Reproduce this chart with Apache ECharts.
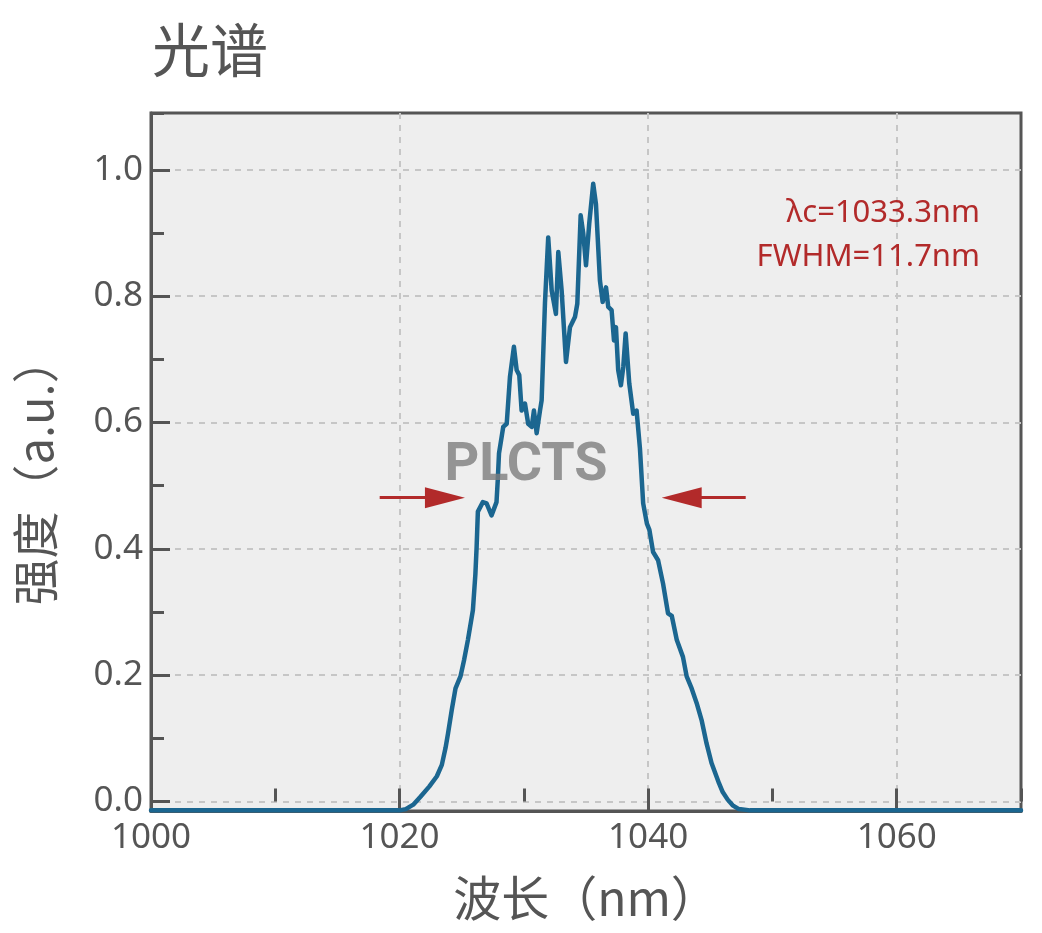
<!DOCTYPE html>
<html>
<head>
<meta charset="utf-8">
<script src="https://cdn.jsdelivr.net/npm/echarts@6/dist/echarts.min.js"></script>
<style>
html,body{margin:0;padding:0;background:#fff;}
#c{width:1042px;height:933px;}
</style>
</head>
<body>
<div id="c"></div>
<script>
// ---- data ----
const wavelength = [
  1000, 1010, 1020.0, 1020.5, 1021.1, 1021.7, 1022.4, 1023.0, 1023.4, 1023.7, 1023.9,
  1024.2, 1024.5, 1024.9, 1025.2, 1025.5, 1025.9, 1026.1, 1026.2, 1026.3, 1026.7,
  1027.0, 1027.4, 1027.8, 1027.9, 1028.0, 1028.21, 1028.34, 1028.62, 1028.88, 1029.20,
  1029.42, 1029.63, 1029.82, 1030.09, 1030.35, 1030.63, 1030.81, 1031.03, 1031.30, 1031.43,
  1031.70, 1031.96, 1032.24, 1032.58, 1032.77, 1033.04, 1033.39, 1033.71, 1034.11, 1034.30,
  1034.57, 1034.78, 1035.00, 1035.26, 1035.58, 1035.80, 1036.12, 1036.34, 1036.61, 1036.79,
  1037.06, 1037.25, 1037.41, 1037.59, 1037.81, 1038.00, 1038.19, 1038.48, 1038.80, 1039.07,
  1039.34, 1039.6, 1039.9, 1040.1, 1040.4, 1040.8, 1041.2, 1041.6, 1041.9, 1042.3,
  1042.8, 1043.1, 1043.5, 1043.9, 1044.3, 1044.7, 1045.1, 1045.7, 1046.0, 1046.4,
  1046.8, 1047.3, 1048.2, 1060, 1070
];
const intensity = [
  -0.014, -0.014, -0.014, -0.012, -0.005, 0.008, 0.024, 0.040, 0.058, 0.085, 0.108,
  0.145, 0.179, 0.198, 0.225, 0.256, 0.303, 0.360, 0.403, 0.459, 0.474,
  0.472, 0.453, 0.474, 0.509, 0.551, 0.577, 0.593, 0.598, 0.672, 0.720,
  0.683, 0.675, 0.619, 0.630, 0.598, 0.593, 0.619, 0.583, 0.619, 0.635,
  0.790, 0.893, 0.809, 0.772, 0.870, 0.809, 0.696, 0.751, 0.767, 0.788,
  0.928, 0.899, 0.849, 0.915, 0.978, 0.946, 0.825, 0.791, 0.814, 0.783,
  0.778, 0.730, 0.751, 0.683, 0.659, 0.688, 0.741, 0.662, 0.614, 0.619,
  0.559, 0.472, 0.440, 0.430, 0.395, 0.382, 0.345, 0.298, 0.294, 0.256,
  0.229, 0.198, 0.179, 0.156, 0.129, 0.092, 0.061, 0.029, 0.015, 0.003,
  -0.006, -0.012, -0.014, -0.014, -0.014
];
const xTickLabels = [1000, 1020, 1040, 1060];
const yTickLabels = [0.0, 0.2, 0.4, 0.6, 0.8, 1.0];
const fwhmLevel = 0.481;
const leftArrow = [1018.4, 1023.65];
const rightArrow = [1047.85, 1042.7];
const annotationLines = ['λc=1033.3nm', 'FWHM=11.7nm'];
const titleText = '光谱';
const xName = '波长（nm）';
const yName = '强度（a.u.）';
const watermark = 'PLCTS';

const seriesData = wavelength.map((w, i) => [w, intensity[i]]);

const GRID = {left: 151, right: 21, top: 113, bottom: 122};
const axisColor = '#555555';
const textColor = '#555555';
const numFont = '"Noto Sans", "Noto Sans CJK SC", sans-serif';
const cjkFont = '"Noto Sans CJK SC", "Noto Sans", sans-serif';
const splitStyle = {color: '#c6c6c6', width: 2, type: [6, 6]};

const chart = echarts.init(document.getElementById('c'), null, {renderer: 'canvas'});
chart.setOption({
  animation: false,
  backgroundColor: '#ffffff',
  grid: [
    Object.assign({show: true, backgroundColor: '#eeeeee', borderColor: axisColor, borderWidth: 3, containLabel: false}, GRID),
    Object.assign({show: false, containLabel: false}, GRID)
  ],
  xAxis: [
    {
      type: 'value', gridIndex: 0, min: 1000, max: 1070, interval: 20,
      axisLine: {show: true, onZero: false, lineStyle: {color: axisColor, width: 3}},
      axisTick: {show: true, inside: true, length: 19, lineStyle: {color: axisColor, width: 3}},
      axisLabel: {
        show: true, color: textColor, fontSize: 35, fontFamily: numFont, margin: 10,
        showMaxLabel: false,
        formatter: v => (xTickLabels.indexOf(Math.round(v)) >= 0 && Math.abs(v - Math.round(v)) < 1e-6) ? String(Math.round(v)) : ''
      },
      splitLine: {show: true, showMinLine: false, showMaxLine: false, lineStyle: splitStyle}
    },
    {
      type: 'value', gridIndex: 1, min: 1000, max: 1070, interval: 10,
      axisLine: {show: false},
      axisTick: {show: true, inside: true, length: 13, lineStyle: {color: axisColor, width: 3}},
      axisLabel: {show: false},
      splitLine: {show: false}
    }
  ],
  yAxis: [
    {
      type: 'value', gridIndex: 0, min: -0.015, max: 1.09, minInterval: 0.2, maxInterval: 0.2, splitNumber: 5,
      axisLine: {show: true, onZero: false, lineStyle: {color: axisColor, width: 3}},
      axisTick: {show: true, inside: true, length: 19, lineStyle: {color: axisColor, width: 3}},
      axisLabel: {
        show: true, color: textColor, fontSize: 35, fontFamily: numFont, margin: 8,
        showMinLabel: false, showMaxLabel: false,
        formatter: v => {
          const hit = yTickLabels.find(t => Math.abs(t - v) < 1e-6);
          return hit === undefined ? '' : hit.toFixed(1);
        }
      },
      splitLine: {show: true, showMinLine: false, showMaxLine: false, lineStyle: splitStyle}
    },
    {
      type: 'value', gridIndex: 1, min: -0.015, max: 1.09, minInterval: 0.1, maxInterval: 0.1, splitNumber: 11,
      axisLine: {show: false},
      axisTick: {show: true, inside: true, length: 13, lineStyle: {color: axisColor, width: 3}},
      axisLabel: {show: false},
      splitLine: {show: false}
    }
  ],
  series: [
    {
      type: 'line', xAxisIndex: 0, yAxisIndex: 0,
      data: seriesData,
      showSymbol: false, symbol: 'none', smooth: false,
      lineStyle: {color: '#1b6690', width: 4.5, join: 'round', cap: 'round'},
      z: 3,
      markLine: {
        silent: true, animation: false,
        symbol: ['none', 'triangle'], symbolSize: [21, 40],
        label: {show: false},
        emphasis: {disabled: true},
        lineStyle: {color: '#b22a2a', width: 3, type: 'solid'},
        itemStyle: {color: '#b22a2a'},
        data: [
          [{coord: [leftArrow[0], fwhmLevel]}, {coord: [leftArrow[1], fwhmLevel]}],
          [{coord: [rightArrow[0], fwhmLevel]}, {coord: [rightArrow[1], fwhmLevel]}]
        ]
      }
    },
    {type: 'line', xAxisIndex: 1, yAxisIndex: 1, data: [], silent: true}
  ],
  graphic: [
    {type: 'text', x: 152, y: 50, z: 10,
      style: {text: titleText, fill: textColor, font: '58px ' + cjkFont, textAlign: 'left', textVerticalAlign: 'middle'}},
    {type: 'text', x: 586, y: 898, z: 10,
      style: {text: xName, fill: textColor, font: '48px ' + cjkFont, textAlign: 'center', textVerticalAlign: 'middle'}},
    {type: 'text', x: 35, y: 471, rotation: Math.PI / 2, z: 10,
      style: {text: yName, fill: textColor, font: '47px ' + cjkFont, textAlign: 'center', textVerticalAlign: 'middle'}},
    {type: 'text', x: 980, y: 213, z: 10,
      style: {text: annotationLines[0], fill: '#b22a2a', font: '31px ' + numFont, textAlign: 'right', textVerticalAlign: 'middle'}},
    {type: 'text', x: 980, y: 257, z: 10,
      style: {text: annotationLines[1], fill: '#b22a2a', font: '31px ' + numFont, textAlign: 'right', textVerticalAlign: 'middle'}},
    {type: 'text', x: 526, y: 466, z: 10,
      style: {text: watermark, fill: 'rgba(125,125,125,0.8)', font: 'bold 54px "Liberation Sans Narrow", Roboto, sans-serif', textAlign: 'center', textVerticalAlign: 'middle'}}
  ]
});
</script>
</body>
</html>
